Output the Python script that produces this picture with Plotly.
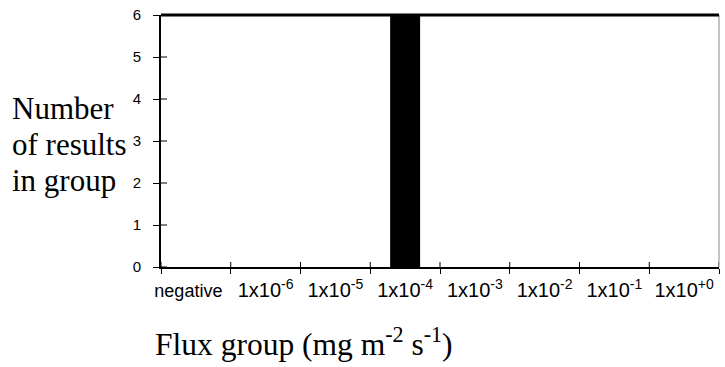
import plotly.graph_objects as go

categories = ["negative", "1e-6", "1e-5", "1e-4", "1e-3", "1e-2", "1e-1", "1e+0"]
tick_labels = ["<span style='font-size:18px'>negative&nbsp;&nbsp;&nbsp;</span>", "1x10<sup>-6</sup>",
               "1x10<sup>-5</sup>", "1x10<sup>-4</sup>", "1x10<sup>-3</sup>", "1x10<sup>-2</sup>",
               "1x10<sup>-1</sup>", "1x10<sup>+0</sup>"]
counts = [0, 0, 0, 6, 0, 0, 0, 0]
y_ticks = [0, 1, 2, 3, 4, 5, 6]

fig = go.Figure()
fig.add_trace(go.Bar(x=categories, y=counts, marker=dict(color="black", line=dict(width=0)),
                     showlegend=False, hoverinfo="skip"))

# inner halves of the crossing tick marks
shapes = []
for v in y_ticks:
    shapes.append(dict(type="line", xref="paper", yref="y", xsizemode="pixel", xanchor=0,
                       x0=0, x1=6, y0=v, y1=v, line=dict(color="black", width=1)))
for i in range(len(categories) + 1):
    shapes.append(dict(type="line", xref="x", yref="paper", ysizemode="pixel", yanchor=0,
                       x0=i - 0.5, x1=i - 0.5, y0=0, y1=5, line=dict(color="black", width=1)))
shapes.append(dict(type="line", xref="paper", yref="paper", x0=1, x1=1, y0=0, y1=1,
                   line=dict(color="#888888", width=1)))
shapes.append(dict(type="line", xref="paper", yref="paper", x0=0, x1=1, y0=1, y1=1,
                   line=dict(color="black", width=3)))

fig.update_layout(
    width=725, height=367,
    margin=dict(l=161, r=6, t=13, b=100),
    paper_bgcolor="white", plot_bgcolor="white",
    bargap=0.57,
    xaxis=dict(type="category", categoryorder="array", categoryarray=categories,
               range=[-0.5, 7.5], tickangle=0,
               tickmode="array", tickvals=categories, ticktext=tick_labels,
               tickson="boundaries", ticks="outside", ticklen=5, tickwidth=1, tickcolor="black",
               showline=True, linecolor="black", linewidth=2,
               showgrid=False, zeroline=False, ticklabelstandoff=4,
               tickfont=dict(family="Liberation Sans, Arial", size=20, color="black")),
    yaxis=dict(range=[0, 6], tickmode="array", tickvals=y_ticks, ticks="outside", ticklen=6,
               tickwidth=1, tickcolor="black",
               showline=True, linecolor="black", linewidth=2,
               showgrid=False, zeroline=False, ticklabelstandoff=9,
               tickfont=dict(family="Liberation Sans, Arial", size=15, color="black")),
    shapes=shapes,
)

serif = "Liberation Serif, Times New Roman, serif"
for txt, yp in [("Number", 0.630), ("of results", 0.488), ("in group", 0.343)]:
    fig.add_annotation(text=txt, xref="paper", yref="paper", x=-0.271, y=yp,
                       xanchor="left", yanchor="middle", showarrow=False,
                       font=dict(family=serif, size=31, color="black"))

fig.add_annotation(text="Flux group (mg m<sup>-2</sup> s<sup>-1</sup>)", xref="paper", yref="paper",
                   x=0.256, y=-0.299, xanchor="center", yanchor="middle", showarrow=False,
                   font=dict(family=serif, size=31.5, color="black"))

fig.write_html("out.html")
